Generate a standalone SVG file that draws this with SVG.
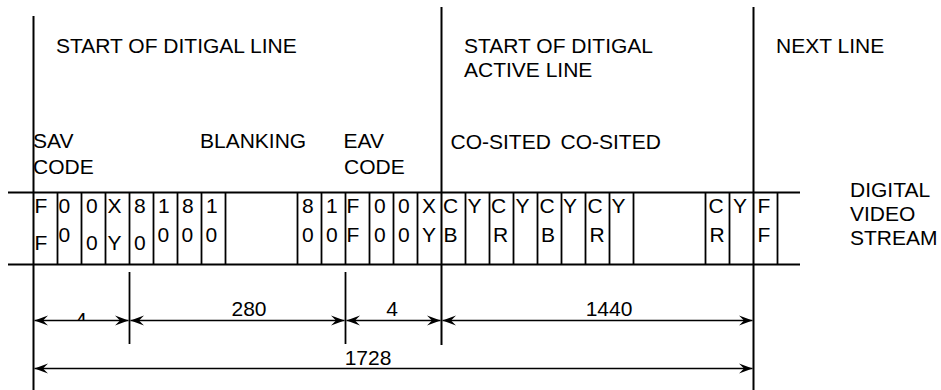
<svg xmlns="http://www.w3.org/2000/svg" width="941" height="390" viewBox="0 0 941 390">
<style>
  text { font-family: "Liberation Sans", Arial, sans-serif; font-size: 21px; fill: #000; }
  .mid { text-anchor: middle; }
  .main { stroke: #000; stroke-width: 2; fill: none; }
  .cell { stroke: #000; stroke-width: 1.8; fill: none; }
  .dim { stroke: #000; stroke-width: 1.5; fill: none; marker-start: url(#arr); marker-end: url(#arr); }
  .ext { stroke: #000; stroke-width: 1.8; fill: none; }
</style>
<defs>
  <marker id="arr" viewBox="-14 -6 15 12" refX="0" refY="0" markerWidth="15" markerHeight="12" markerUnits="userSpaceOnUse" orient="auto-start-reverse">
    <path d="M0,0 L-13.5,-5 L-8.5,0 L-13.5,5 Z" fill="#000"/>
  </marker>
  <clipPath id="clip4"><rect x="60" y="290" width="50" height="30"/></clipPath>
</defs>
<rect width="941" height="390" fill="#fff"/>

<g id="frame">
  <line class="main" x1="33.5" y1="16" x2="33.5" y2="390"/>
  <line class="main" x1="441.5" y1="7" x2="441.5" y2="345"/>
  <line class="main" x1="753.5" y1="7" x2="753.5" y2="390"/>
</g>

<g id="headings">
  <text x="56" y="52.5">START OF DITIGAL LINE</text>
  <text x="464" y="52.5">START OF DITIGAL</text>
  <text x="464" y="76.5">ACTIVE LINE</text>
  <text x="776" y="52.5">NEXT LINE</text>
</g>

<g id="sublabels">
  <text x="33" y="147.5">SAV</text>
  <text x="33" y="173.5">CODE</text>
  <text x="200" y="147.5">BLANKING</text>
  <text x="343.5" y="147.5">EAV</text>
  <text x="344" y="173.5">CODE</text>
  <text x="450.5" y="148.5">CO-SITED</text>
  <text x="560.5" y="148.5">CO-SITED</text>
</g>

<g id="stream">
  <line class="main" x1="8" y1="192.5" x2="800" y2="192.5"/>
  <line class="main" x1="8" y1="264.5" x2="800" y2="264.5"/>
  <g class="cell">
    <line x1="57.5" y1="192.5" x2="57.5" y2="264.5"/>
    <line x1="81.5" y1="192.5" x2="81.5" y2="264.5"/>
    <line x1="105.5" y1="192.5" x2="105.5" y2="264.5"/>
    <line x1="129.5" y1="192.5" x2="129.5" y2="264.5"/>
    <line x1="153.5" y1="192.5" x2="153.5" y2="264.5"/>
    <line x1="177.5" y1="192.5" x2="177.5" y2="264.5"/>
    <line x1="201.5" y1="192.5" x2="201.5" y2="264.5"/>
    <line x1="225.5" y1="192.5" x2="225.5" y2="264.5"/>
    <line x1="297.5" y1="192.5" x2="297.5" y2="264.5"/>
    <line x1="321.5" y1="192.5" x2="321.5" y2="264.5"/>
    <line x1="345.5" y1="192.5" x2="345.5" y2="264.5"/>
    <line x1="369.5" y1="192.5" x2="369.5" y2="264.5"/>
    <line x1="393.5" y1="192.5" x2="393.5" y2="264.5"/>
    <line x1="417.5" y1="192.5" x2="417.5" y2="264.5"/>
    <line x1="465.5" y1="192.5" x2="465.5" y2="264.5"/>
    <line x1="489.5" y1="192.5" x2="489.5" y2="264.5"/>
    <line x1="513.5" y1="192.5" x2="513.5" y2="264.5"/>
    <line x1="537.5" y1="192.5" x2="537.5" y2="264.5"/>
    <line x1="561.5" y1="192.5" x2="561.5" y2="264.5"/>
    <line x1="585.5" y1="192.5" x2="585.5" y2="264.5"/>
    <line x1="609.5" y1="192.5" x2="609.5" y2="264.5"/>
    <line x1="633.5" y1="192.5" x2="633.5" y2="264.5"/>
    <line x1="705.5" y1="192.5" x2="705.5" y2="264.5"/>
    <line x1="729.5" y1="192.5" x2="729.5" y2="264.5"/>
    <line x1="777.5" y1="192.5" x2="777.5" y2="264.5"/>
  </g>
  <!-- row 1 -->
  <text x="34.5" y="213">F</text>
  <text x="58.5" y="213">0</text>
  <text x="86" y="213">0</text>
  <text x="107.5" y="213">X</text>
  <text x="134" y="213">8</text>
  <text x="158" y="213">1</text>
  <text x="182" y="213">8</text>
  <text x="206" y="213">1</text>
  <text x="302" y="213">8</text>
  <text x="326" y="213">1</text>
  <text x="346.5" y="213">F</text>
  <text x="374" y="213">0</text>
  <text x="398" y="213">0</text>
  <text x="422" y="213">X</text>
  <text x="443" y="213">C</text>
  <text x="467.5" y="213">Y</text>
  <text x="491" y="213">C</text>
  <text x="515.5" y="213">Y</text>
  <text x="539.5" y="213">C</text>
  <text x="563" y="213">Y</text>
  <text x="587.5" y="213">C</text>
  <text x="611.5" y="213">Y</text>
  <text x="708.5" y="213">C</text>
  <text x="733" y="213">Y</text>
  <text x="757.5" y="213">F</text>
  <!-- row 2 -->
  <text x="34.5" y="249.5">F</text>
  <text x="58.5" y="242">0</text>
  <text x="86" y="249.5">0</text>
  <text x="107.5" y="249.5">Y</text>
  <text x="134" y="249.5">0</text>
  <text x="157.5" y="242">0</text>
  <text x="181.5" y="242">0</text>
  <text x="205.5" y="242">0</text>
  <text x="302" y="242">0</text>
  <text x="326" y="242">0</text>
  <text x="346.5" y="242">F</text>
  <text x="374" y="242">0</text>
  <text x="398" y="242">0</text>
  <text x="422" y="242">Y</text>
  <text x="443.5" y="242">B</text>
  <text x="493" y="242">R</text>
  <text x="541" y="242">B</text>
  <text x="589.5" y="242">R</text>
  <text x="709.5" y="242">R</text>
  <text x="757.5" y="242">F</text>
</g>

<g id="caption">
  <text x="850" y="197">DIGITAL</text>
  <text x="850" y="221">VIDEO</text>
  <text x="850" y="245">STREAM</text>
</g>

<g id="connectors">
  <line class="ext" x1="129.5" y1="272" x2="129.5" y2="344"/>
  <line class="ext" x1="345.5" y1="272" x2="345.5" y2="344"/>
  <line class="dim" x1="34.5" y1="320.5" x2="128.5" y2="320.5"/>
  <line class="dim" x1="130.5" y1="320.5" x2="344.5" y2="320.5"/>
  <line class="dim" x1="346.5" y1="320.5" x2="440.5" y2="320.5"/>
  <line class="dim" x1="442.5" y1="320.5" x2="752.5" y2="320.5"/>
  <line class="dim" x1="34.5" y1="368.5" x2="752.5" y2="368.5"/>
</g>

<g id="dimlabels">
  <text class="mid" x="81" y="327" clip-path="url(#clip4)">4</text>
  <text class="mid" x="249" y="315.5">280</text>
  <text class="mid" x="392" y="315.5">4</text>
  <text class="mid" x="609" y="315.5">1440</text>
  <text class="mid" x="368" y="364.5">1728</text>
</g>
</svg>
